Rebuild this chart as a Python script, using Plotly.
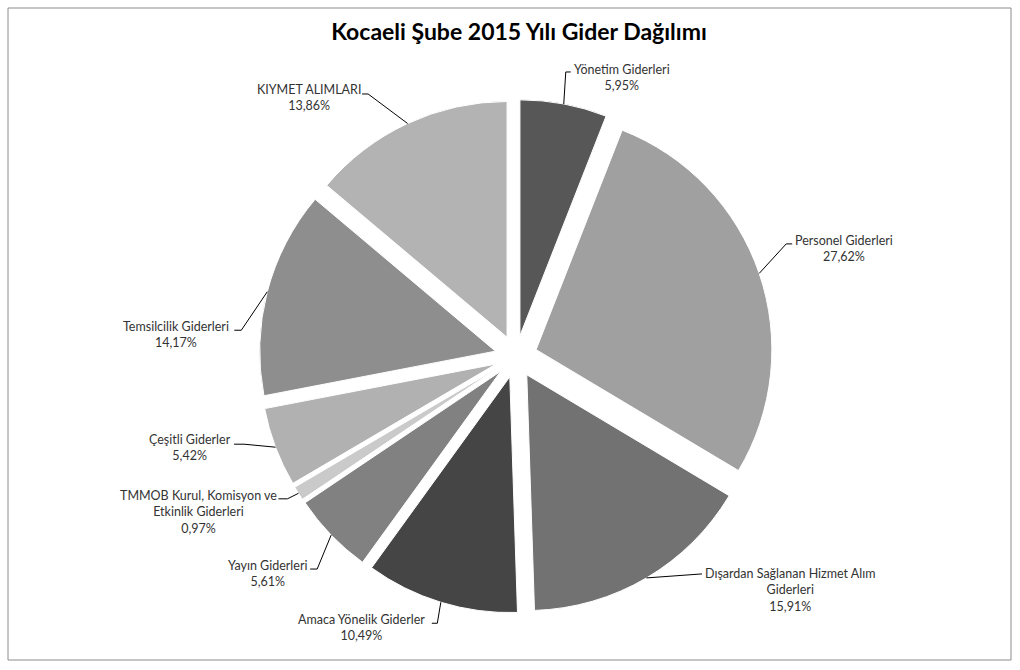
import math
import plotly.graph_objects as go

W, H = 1020, 670

# Data
labels = [
    "Yönetim Giderleri",
    "Personel Giderleri",
    "Dışardan Sağlanan Hizmet Alım Giderleri",
    "Amaca Yönelik Giderler",
    "Yayın Giderleri",
    "TMMOB Kurul, Komisyon ve Etkinlik Giderleri",
    "Çeşitli Giderler",
    "Temsilcilik Giderleri",
    "KIYMET ALIMLARI",
]
label_text = [
    "Yönetim Giderleri",
    "Personel Giderleri",
    "Dışardan Sağlanan Hizmet Alım<br>Giderleri",
    "Amaca Yönelik Giderler",
    "Yayın Giderleri",
    "TMMOB Kurul, Komisyon ve<br>Etkinlik Giderleri",
    "Çeşitli Giderler",
    "Temsilcilik Giderleri",
    "KIYMET ALIMLARI",
]
values = [5.95, 27.62, 15.91, 10.49, 5.61, 0.97, 5.42, 14.17, 13.86]
colors = ["#575757", "#a0a0a0", "#727272", "#454545", "#818181",
          "#cacaca", "#b1b1b1", "#8e8e8e", "#b3b3b3"]

# Label layout: pixel offsets from the slice anchor (elbow, line end, text centre)
elbows = [(2, -32), (27, -29.5), (55.5, -4), (-3.5, 21), (-14, 34), (-11, 5.5), (-31.5, -3), (-26, 38.5), (-39.5, -29.5)]
ends = [(7, -32), (33, -29.5), (55.5, -4), (-9, 21), (-21, 34), (-20, 5.5), (-41.5, -3), (-33, 38.5), (-45.5, -29.5)]
text_pos = [(58, -26), (85, -25), (144, 12), (-79, 25), (-64, 38), (-100, 19), (-85.5, 0), (-91, 43), (-98.5, -25.5)]

# Pie geometry (pixels)
cx, cy, R = 516, 356.5, 257
pull = 0.09


def px(x):
    return x / W


def py(y):
    return 1 - y / H


fig = go.Figure(go.Pie(
    labels=labels,
    values=values,
    sort=False,
    direction="clockwise",
    rotation=0,
    pull=[pull] * len(values),
    marker=dict(colors=colors, line=dict(color="white", width=1)),
    textinfo="none",
    hoverinfo="label+percent",
    domain=dict(x=[px(cx - R), px(cx + R)], y=[py(cy + R), py(cy - R)]),
    showlegend=False,
))

total = sum(values)
cum = 0
for i, v in enumerate(values):
    mid = (cum + v / 2) / total * 2 * math.pi
    cum += v
    ax = cx + R * math.sin(mid)
    ay = cy - R * math.cos(mid)
    ex, ey = ax + elbows[i][0], ay + elbows[i][1]
    fx, fy = ax + ends[i][0], ay + ends[i][1]
    fig.add_shape(
        type="path", xref="paper", yref="paper",
        path=f"M {px(ax)},{py(ay)} L {px(ex)},{py(ey)} L {px(fx)},{py(fy)}",
        line=dict(color="#000000", width=1),
    )
    pct = f"{v / total * 100:.2f}".replace(".", ",") + "%"
    fig.add_annotation(
        x=px(ax + text_pos[i][0]), y=py(ay + text_pos[i][1]),
        xref="paper", yref="paper", xanchor="center", yanchor="middle",
        text=f"{label_text[i]}<br>{pct}", showarrow=False, align="center",
        font=dict(family="Lato", size=12.5, color="#333333"),
    )

# Chart border
fig.add_shape(type="rect", xref="paper", yref="paper",
              x0=px(8), y0=py(660), x1=px(1011), y1=py(8),
              line=dict(color="#8c8c8c", width=1))

fig.update_layout(
    width=W, height=H,
    margin=dict(l=0, r=0, t=0, b=0),
    paper_bgcolor="white",
    title=dict(text="<b>Kocaeli Şube 2015 Yılı Gider Dağılımı</b>",
               x=px(519), y=py(32), xanchor="center", yanchor="middle",
               font=dict(family="Lato", size=23, color="#000000")),
)

fig.write_html("out.html", config={"displayModeBar": False},
               post_script="document.body.style.margin='0';")
